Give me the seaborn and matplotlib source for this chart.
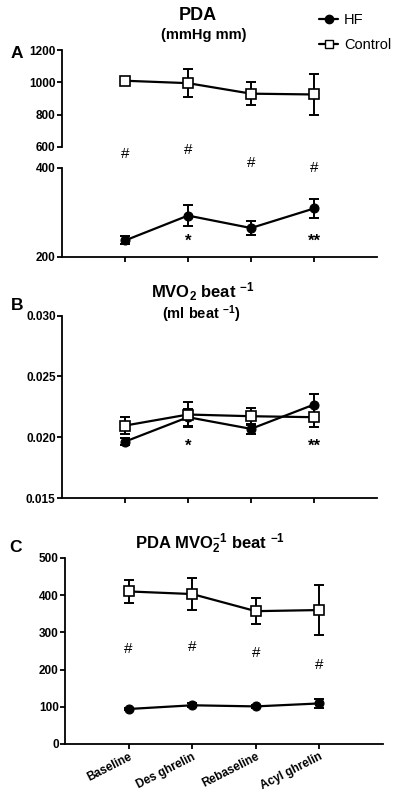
import numpy as np
import pandas as pd
import matplotlib
matplotlib.use("Agg")
import matplotlib.pyplot as plt
import seaborn as sns
from matplotlib.lines import Line2D

# Data (mean +/- SEM)
categories = ["Baseline", "Des ghrelin", "Rebaseline", "Acyl ghrelin"]

pda_ctrl = [1010, 995, 930, 925]
pda_ctrl_err = [8, 88, 70, 128]
pda_hf = [237, 293, 265, 309]
pda_hf_err = [9, 24, 16, 22]

mvo_ctrl = [0.02096, 0.02187, 0.02173, 0.02165]
mvo_ctrl_err = [0.0007, 0.0010, 0.0007, 0.0008]
mvo_hf = [0.01964, 0.02165, 0.02069, 0.02269]
mvo_hf_err = [0.0003, 0.0007, 0.0004, 0.0009]

eff_ctrl = [410, 403, 357, 360]
eff_ctrl_err = [30, 43, 35, 68]
eff_hf = [94, 104, 101, 109]
eff_hf_err = [4, 5, 4, 12]

# significance marks: (category index, y value, text)
pda_hash = [(0, 432, "#"), (1, 440, "#"), (2, 412, "#"), (3, 400, "#")]
pda_star = [(1, 236, "*"), (3, 236, "**")]
mvo_star = [(1, 0.01926, "*"), (3, 0.01926, "**")]
eff_hash = [(0, 255, "#"), (1, 260, "#"), (2, 244, "#"), (3, 213, "#")]

sns.set_style("ticks")
plt.rcParams['font.family'] = ['Liberation Sans', 'DejaVu Sans']
plt.rcParams['text.color'] = 'black'
plt.rcParams['axes.edgecolor'] = 'black'
plt.rcParams['xtick.color'] = 'black'
plt.rcParams['ytick.color'] = 'black'
plt.rcParams['mathtext.fontset'] = 'custom'
plt.rcParams['mathtext.rm'] = 'Liberation Sans:bold'
plt.rcParams['mathtext.bf'] = 'Liberation Sans:bold'
plt.rcParams['mathtext.it'] = 'Liberation Sans:bold'

fig = plt.figure(figsize=(4.0, 7.98), dpi=100)

ax_a_top = fig.add_axes([0.155, 0.8158, 0.7875, 0.1215])
ax_a_bot = fig.add_axes([0.155, 0.678, 0.7875, 0.1115])
ax_b = fig.add_axes([0.155, 0.3759, 0.7875, 0.2285])
ax_c = fig.add_axes([0.1625, 0.0677, 0.795, 0.2331])

x = np.arange(len(categories))


def draw_series(ax, vals, errs, group):
    df = pd.DataFrame({"x": x, "y": vals})
    ax.errorbar(x, vals, yerr=errs, fmt="none", ecolor="black", elinewidth=1.4,
                capsize=3.5, capthick=1.4, zorder=2)
    if group == "HF":
        sns.lineplot(data=df, x="x", y="y", ax=ax, color="black", lw=1.6, marker="o",
                     markersize=6.5, markerfacecolor="black", markeredgecolor="black",
                     zorder=3)
    else:
        sns.lineplot(data=df, x="x", y="y", ax=ax, color="black", lw=1.6, marker="s",
                     markersize=7.5, markerfacecolor="white", markeredgecolor="black",
                     markeredgewidth=1.2, zorder=4)


tick_kw = dict(fontsize=8.5, fontweight="bold", color="black")


def style_axis(ax, yticks, ylabels):
    sns.despine(ax=ax)
    ax.set_xlim(-1, 4)
    ax.set_xlabel("")
    ax.set_ylabel("")
    for s in ["left", "bottom"]:
        ax.spines[s].set_linewidth(1.3)
        ax.spines[s].set_color("black")
    ax.tick_params(axis="both", direction="out", width=1.3, length=3.5, pad=1,
                   color="black")
    ax.set_yticks(yticks)
    ax.set_yticklabels(ylabels, **tick_kw)
    ax.set_xticks(x)


# Panel A: broken axis
draw_series(ax_a_top, pda_ctrl, pda_ctrl_err, "Control")
draw_series(ax_a_bot, pda_hf, pda_hf_err, "HF")
# Panel B
draw_series(ax_b, mvo_ctrl, mvo_ctrl_err, "Control")
draw_series(ax_b, mvo_hf, mvo_hf_err, "HF")
# Panel C
draw_series(ax_c, eff_ctrl, eff_ctrl_err, "Control")
draw_series(ax_c, eff_hf, eff_hf_err, "HF")

style_axis(ax_a_top, [600, 800, 1000, 1200], ["600", "800", "1000", "1200"])
ax_a_top.set_ylim(600, 1200)
ax_a_top.spines["bottom"].set_visible(False)
ax_a_top.tick_params(axis="x", bottom=False, labelbottom=False)

style_axis(ax_a_bot, [200, 400], ["200", "400"])
ax_a_bot.set_ylim(200, 400)
ax_a_bot.set_xticklabels([])

style_axis(ax_b, [0.015, 0.020, 0.025, 0.030], ["0.015", "0.020", "0.025", "0.030"])
ax_b.set_ylim(0.015, 0.030)
ax_b.set_xticklabels([])

style_axis(ax_c, [0, 100, 200, 300, 400, 500], ["0", "100", "200", "300", "400", "500"])
ax_c.set_ylim(0, 500)
ax_c.set_xticklabels(categories, rotation=27, ha="right", rotation_mode="anchor", **tick_kw)
ax_c.tick_params(axis="x", pad=1.5)

for i, yv, t in pda_hash:
    ax_a_bot.text(i, yv, t, ha="center", va="center", fontsize=11, clip_on=False)
for i, yv, t in pda_star:
    ax_a_bot.text(i, yv, t, ha="center", va="center", fontsize=12, fontweight="bold")
for i, yv, t in mvo_star:
    ax_b.text(i, yv, t, ha="center", va="center", fontsize=12, fontweight="bold")
for i, yv, t in eff_hash:
    ax_c.text(i, yv, t, ha="center", va="center", fontsize=11)

# Titles and panel letters
fig.text(0.495, 0.981, "PDA", ha="center", va="center", fontsize=13, fontweight="bold")
fig.text(0.51, 0.956, "(mmHg mm)", ha="center", va="center", fontsize=10.5, fontweight="bold")
fig.text(0.042, 0.933, "A", ha="center", va="center", fontsize=12.5, fontweight="bold")

fig.text(0.508, 0.634, r"MVO$_2$ beat $^{-1}$", ha="center", va="center", fontsize=12,
         fontweight="bold")
fig.text(0.503, 0.606, r"(ml beat $^{-1}$)", ha="center", va="center", fontsize=10.5,
         fontweight="bold")
fig.text(0.042, 0.617, "B", ha="center", va="center", fontsize=12.5, fontweight="bold")

fig.text(0.525, 0.319, r"PDA MVO$_2^{-1}$ beat $^{-1}$", ha="center", va="center",
         fontsize=12, fontweight="bold")
fig.text(0.04, 0.314, "C", ha="center", va="center", fontsize=12.5, fontweight="bold")

# Legend
handles = [
    Line2D([], [], color="black", lw=1.6, marker="o", markersize=6,
           markerfacecolor="black", markeredgecolor="black"),
    Line2D([], [], color="black", lw=1.6, marker="s", markersize=6,
           markerfacecolor="white", markeredgecolor="black"),
]
fig.legend(handles, ["HF", "Control"], loc="upper left", bbox_to_anchor=(0.765, 1.0),
           frameon=False, fontsize=10.5, handlelength=1.3, handletextpad=0.4,
           labelspacing=0.72)

fig.savefig("out.png", dpi=100)
